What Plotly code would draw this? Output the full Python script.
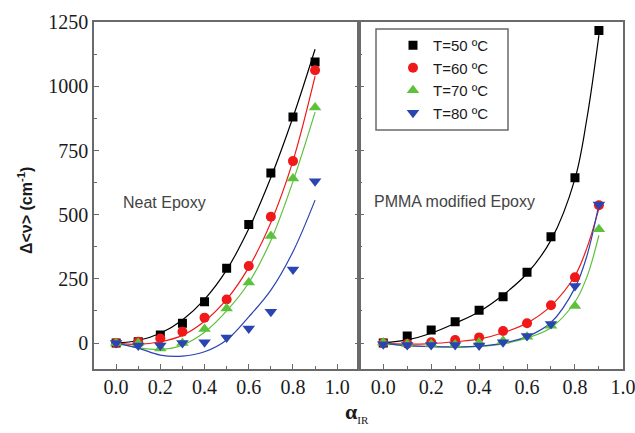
import plotly.graph_objects as go

# ---------------- data ----------------
alpha = [0.0, 0.1, 0.2, 0.3, 0.4, 0.5, 0.6, 0.7, 0.8, 0.9]

# Neat epoxy – measured points
neat_50 = [0, 5, 31, 77, 161, 291, 462, 663, 881, 1095]
neat_60 = [0, 5, 18, 44, 99, 170, 300, 492, 709, 1063]
neat_70 = [0, 0, -21, 0, 55, 135, 236, 417, 641, 918]
neat_80 = [0, -10, -10, 0, 3, 22, 57, 122, 287, 631]

# Neat epoxy – fitted curves
neat_fit_x = [0.0, 0.1, 0.2, 0.3, 0.4, 0.5, 0.6, 0.7, 0.8, 0.9]
neat_fit_50 = [0, 10, 38, 90, 170, 285, 445, 645, 880, 1145]
neat_fit_60 = [0, -5, 5, 30, 85, 170, 295, 470, 710, 1040]
neat_fit_70 = [0, -18, -25, -8, 42, 125, 235, 400, 630, 900]
neat_fit_80 = [0, -20, -47, -51, -34, 12, 102, 206, 356, 557]

# PMMA modified epoxy – measured points
pmma_50 = [0, 27, 51, 83, 128, 180, 276, 414, 644, 1218]
pmma_60 = [0, -3, 3, 12, 22, 47, 77, 147, 256, 537]
pmma_70 = [2, -4, -4, -6, 2, 9, 25, 67, 144, 443]
pmma_80 = [-5, -8, -8, -8, -10, 3, 27, 74, 222, 540]

# PMMA modified epoxy – fitted curves
pmma_fit_x = [0.0, 0.1, 0.2, 0.3, 0.4, 0.5, 0.6, 0.7, 0.8, 0.85, 0.9]
pmma_fit_50 = [0, 12, 38, 77, 122, 187, 271, 401, 640, 876, 1200]
pmma_fit_60 = [0, -4, -2, 5, 15, 40, 78, 145, 262, 371, 525]
pmma_fit_70 = [0, -10, -14, -16, -13, -3, 20, 60, 160, 258, 420]
pmma_fit_80 = [0, -10, -14, -15, -12, 0, 25, 80, 215, 340, 540]

labels = ["T=50 ºC", "T=60 ºC", "T=70 ºC", "T=80 ºC"]
colors = ["#000000", "#f01818", "#5cc23c", "#2a45b0"]
symbols = ["square", "circle", "triangle-up", "triangle-down"]
msizes = [9, 10, 11, 11]

x_ticks = [0.0, 0.2, 0.4, 0.6, 0.8, 1.0]
y_ticks = [0, 250, 500, 750, 1000, 1250]

# ---------------- figure ----------------
W, H = 635, 433
fig = go.Figure()

neat_pts = [neat_50, neat_60, neat_70, neat_80]
neat_fits = [neat_fit_50, neat_fit_60, neat_fit_70, neat_fit_80]
pmma_pts = [pmma_50, pmma_60, pmma_70, pmma_80]
pmma_fits = [pmma_fit_50, pmma_fit_60, pmma_fit_70, pmma_fit_80]

for i in range(4):
    fig.add_trace(go.Scatter(x=neat_fit_x, y=neat_fits[i], mode="lines",
                             line=dict(color=colors[i], width=1.2, shape="spline", smoothing=1.0),
                             showlegend=False, xaxis="x", yaxis="y", hoverinfo="skip"))
    fig.add_trace(go.Scatter(x=pmma_fit_x, y=pmma_fits[i], mode="lines",
                             line=dict(color=colors[i], width=1.2, shape="spline", smoothing=1.0),
                             showlegend=False, xaxis="x2", yaxis="y2", hoverinfo="skip"))
for i in range(4):
    fig.add_trace(go.Scatter(x=alpha, y=neat_pts[i], mode="markers", name=labels[i],
                             marker=dict(symbol=symbols[i], size=msizes[i], color=colors[i]),
                             showlegend=True, xaxis="x", yaxis="y"))
    fig.add_trace(go.Scatter(x=alpha, y=pmma_pts[i], mode="markers", name=labels[i],
                             marker=dict(symbol=symbols[i], size=msizes[i], color=colors[i]),
                             showlegend=False, xaxis="x2", yaxis="y2"))

x_left, x_mid, x_right = 94, 359.3, 623
y_top, y_bot = 22.3, 368.7
ydom = [1 - y_bot / H, 1 - y_top / H]

serif = "Liberation Serif, Times New Roman, serif"
sans = "Liberation Sans, Arial, sans-serif"
tickfont = dict(family=serif, size=20, color="#1a1a1a")
linecol = "#6a6a6a"

common_x = dict(showgrid=False, zeroline=False, showline=True, linecolor=linecol, linewidth=1.5,
                mirror=True, ticks="inside", ticklen=5, tickwidth=1.2, tickcolor=linecol,
                tickvals=x_ticks, ticktext=[f"{v:.1f}" for v in x_ticks], tickfont=tickfont,
                automargin=False, ticklabeloverflow="allow",
                minor=dict(dtick=0.1, tick0=0, ticks="inside", ticklen=3, tickwidth=1.2, tickcolor=linecol))
common_y = dict(showgrid=False, zeroline=False, showline=True, linecolor=linecol, linewidth=1.5,
                ticks="inside", ticklen=5, tickwidth=1.2, tickcolor=linecol, range=[-100, 1250],
                tickvals=y_ticks, tickfont=tickfont, automargin=False,
                minor=dict(dtick=125, tick0=0, ticks="inside", ticklen=3, tickwidth=1.2, tickcolor=linecol))

fig.update_layout(
    template="none",
    width=W, height=H, margin=dict(l=0, r=0, t=0, b=0, pad=0), autosize=False,
    paper_bgcolor="white", plot_bgcolor="white",
    showlegend=True,
    xaxis=dict(domain=[x_left / W, x_mid / W], range=[-0.1, 1.1], anchor="y", **common_x),
    xaxis2=dict(domain=[x_mid / W, x_right / W], range=[-0.1, 1.0005], anchor="y2", **common_x),
    yaxis=dict(domain=ydom, anchor="x", mirror="ticks", **common_y),
    yaxis2=dict(domain=ydom, anchor="x2", mirror=True, showticklabels=False, **common_y),
    legend=dict(x=393 / W, y=1 - 29 / H, xanchor="left", yanchor="top",
                bgcolor="rgba(0,0,0,0)", borderwidth=0,
                font=dict(family=sans, size=15, color="#1a1a1a"),
                tracegroupgap=0, itemwidth=30),
    shapes=[dict(type="rect", xref="paper", yref="paper",
                 x0=376 / W, x1=508 / W, y0=1 - 130 / H, y1=1 - 29 / H,
                 line=dict(color=linecol, width=1.5), fillcolor="rgba(0,0,0,0)")],
    annotations=[
        dict(text="Neat Epoxy", x=164 / W, y=1 - 203 / H, xref="paper", yref="paper",
             xanchor="center", yanchor="middle", showarrow=False,
             font=dict(family=sans, size=16, color="#444444")),
        dict(text="PMMA modified Epoxy", x=455 / W, y=1 - 201 / H, xref="paper", yref="paper",
             xanchor="center", yanchor="middle", showarrow=False,
             font=dict(family=sans, size=16, color="#444444")),
        dict(text="<b>Δ&lt;ν&gt; (cm<sup>-1</sup>)</b>", x=25 / W, y=1 - 211 / H,
             xref="paper", yref="paper", xanchor="center", yanchor="middle",
             showarrow=False, textangle=-90,
             font=dict(family=sans, size=16, color="#1a1a1a")),
        dict(text="<b>α</b><sub><span style='font-size:11px'>IR</span></sub>", x=357 / W, y=1 - 412 / H,
             xref="paper", yref="paper", xanchor="center", yanchor="middle", showarrow=False,
             font=dict(family=serif, size=22, color="#1a1a1a")),
    ],
)

fig.write_html("out.html")
